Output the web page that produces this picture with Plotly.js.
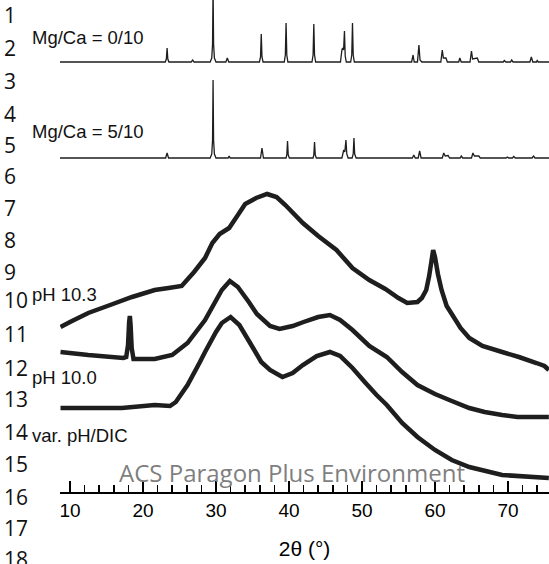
<!DOCTYPE html>
<html><head><meta charset="utf-8">
<script src="https://cdn.plot.ly/plotly-3.0.1.min.js"></script>
<style>html,body{margin:0;padding:0;background:#fff}#chart{width:549px;height:564px}</style>
</head><body><div id="chart"></div>
<script>
// ---------- data (2θ in degrees, intensity in arbitrary units) ----------
const seriesNames = ['Mg/Ca = 0/10', 'Mg/Ca = 5/10', 'pH 10.3', 'pH 10.0', 'var. pH/DIC'];
const seriesOffsets = [430, 334, 100, 60, 0];

const mg0_x = [8.63,23.05,23.2,23.3,23.4,23.55,26.6,26.8,27.0,29.2,29.42,29.53,29.6,29.67,29.78,30.0,31.35,31.55,31.75,
  35.95,36.1,36.2,36.3,36.45,39.35,39.5,39.6,39.7,39.85,43.15,43.3,43.4,43.5,43.65,47.05,47.25,47.35,47.48,47.6,47.7,47.85,
  48.45,48.6,48.7,48.8,48.95,56.8,57.0,57.15,57.6,57.8,57.95,58.2,60.8,61.0,61.15,61.5,61.7,63.25,63.4,63.6,
  64.8,65.0,65.15,65.8,66.0,69.35,69.5,69.7,70.35,70.5,70.7,73.0,73.2,73.4,73.9,74.0,74.15,75.62];
const mg0_i = [0,0,3,14,3,0,0,2,0,0,4,18,75,18,4,0,0,4,0,
  0,5,28,5,0,0,7,39,7,0,0,7,38,7,0,0,12,14,12,31,6,0,
  0,7,39,7,0,0,7,0,0,17,2,0,0,12,4,4,0,0,4,0,
  0,11,3,4,0,0,1.5,0,0,2,0,0,5,0,0,1.5,0,0];

const mg5_x = [8.63,23.1,23.3,23.5,29.2,29.42,29.53,29.6,29.67,29.78,30.0,31.65,31.8,31.95,36.1,36.3,36.5,
  39.6,39.7,39.8,39.9,40.05,43.3,43.4,43.5,43.6,43.75,47.25,47.5,47.65,47.8,47.92,48.1,48.65,48.8,48.9,49.0,49.2,
  56.9,57.1,57.3,57.7,57.9,58.1,61.0,61.2,61.4,61.8,62.0,63.45,63.6,63.8,65.0,65.2,65.4,66.0,66.2,
  69.75,69.9,70.1,70.6,70.8,71.0,73.3,73.5,73.7,75.62];
const mg5_i = [0,0,5,0,0,4,18,78,18,4,0,0,2,0,0,10,0,
  0,3,17,3,0,0,3,16,3,0,0,8,6,18,4,0,0,4,20,4,0,
  0,3,0,0,7,0,0,5,2,2.5,0,0,2,0,0,5,2,2,0,
  0,1,0,0,1.5,0,0,2,0,0];

const ph103_x = [8.7,10,12.5,15.5,18.5,21.6,23.5,25.3,27,28.5,29.5,30.5,31.8,33,34,35.5,37,38.3,39.5,41.9,44,46.5,
  48.7,51,53.2,55,56.2,57.6,58.2,58.8,59.2,59.5,59.75,60.0,60.4,60.9,61.6,62.3,63.5,64.7,66.5,69.2,71.5,73.9,75.0,75.6];
const ph103_i = [65,70,79,87,95,102,104,106,120,134,149,158,164,177,188,194,198,195,187,169,156,142,
  124,112,103,94,89,90,94,102,116,130,142,135,118,102,86,78,64,54,46,40,35,29,26,22];

const ph100_x = [8.7,12.5,17.3,17.7,17.95,18.1,18.2,18.3,18.45,18.7,21.6,24,26.1,28.5,30.8,31.9,33,34.5,35.6,37.4,
  38.7,40.5,42,44,45.6,47,48.7,51,53.4,55.5,57.6,60,62.3,64.7,66.8,69.2,71.3,75.6];
const ph100_i = [80,77,74,75,87,110,116,107,84,73,73,77,89,112,142,151,145,130,118,106,
  103,106,110,115,117,112,102,86,75,60,47,38,31,24,20,17,15,15];

const var_x = [8.7,12.5,17.1,21.6,23.7,24.5,26.1,27.8,28.5,30,30.8,32.0,33.2,35.0,36.2,37.4,39.1,40.5,41.9,43.8,
  45.6,47,48.7,50.5,52,53.4,55.5,57.6,60,62.3,64.7,69.2,75.6];
const var_i = [84,84,84,87,86,90,107,130,140,160,169,175,167,145,130,122,115,119,127,136,
  140,136,124,109,97,87,69,55,42,32,25,17,14];

const xTickVals = [10, 20, 30, 40, 50, 60, 70];
const lineNumbers = ['1','2','3','4','5','6','7','8','9','10','11','12','13','14','15','16','17','18'];

// ---------- layout helpers (pixel placement of text) ----------
const L = 60, PW = 489, PH = 492;
const px2x = p => (p - L) / PW;
const py2y = p => (PH - p) / PH;

const xs = [mg0_x, mg5_x, ph103_x, ph100_x, var_x];
const is = [mg0_i, mg5_i, ph103_i, ph100_i, var_i];
const widths = [1.3, 1.3, 4.5, 4.5, 4.5];

const traces = xs.map((x, k) => ({
  type: 'scatter', mode: 'lines', x: x,
  y: is[k].map(v => v + seriesOffsets[k]),
  line: {color: '#1e1e1e', width: widths[k], simplify: false},
  hoverinfo: 'skip', showlegend: false
}));

const lineNumY = [15,47.5,81,113.5,144.5,176,208,240,272,300,334,368,399,432,464,497,528,559];
const annotations = [];
lineNumbers.forEach((t, k) => annotations.push({
  xref: 'paper', yref: 'paper', x: px2x(2), y: py2y(lineNumY[k]), xanchor: 'left', yanchor: 'middle',
  text: t, showarrow: false, font: {family: 'Open Sans', size: 21, color: '#111'}
}));
const labelY = [37, 131, 294, 377, 435];
seriesNames.forEach((t, k) => annotations.push({
  xref: 'paper', yref: 'paper', x: px2x(30), y: py2y(labelY[k]), xanchor: 'left', yanchor: 'middle',
  text: t, showarrow: false, font: {family: 'Liberation Sans', size: 18.5, color: '#111'}
}));
annotations.push({
  xref: 'paper', yref: 'paper', x: px2x(292), y: py2y(472), xanchor: 'center', yanchor: 'middle',
  text: 'ACS Paragon Plus Environment', showarrow: false,
  font: {family: 'Open Sans', size: 24, color: '#7f7f7f'}
});

const layout = {
  width: 549, height: 564,
  margin: {l: L, r: 0, t: 0, b: 72, pad: 0},
  paper_bgcolor: '#fff', plot_bgcolor: '#fff',
  showlegend: false,
  xaxis: {
    range: [8.63, 75.62], showgrid: false, zeroline: false,
    showline: true, linecolor: '#000', linewidth: 2,
    ticks: 'inside', ticklen: 11, tickwidth: 2, tickcolor: '#000',
    tickvals: xTickVals, ticktext: xTickVals.map(String),
    minor: {dtick: 2, tick0: 0, ticks: 'inside', ticklen: 7, tickwidth: 1.5, tickcolor: '#000', showgrid: false},
    tickfont: {family: 'Liberation Sans', size: 19, color: '#000'},
    title: {text: '2θ (°)', font: {family: 'Liberation Sans', size: 21, color: '#000'}, standoff: 22},
    fixedrange: true
  },
  yaxis: {range: [0, 492], visible: false, fixedrange: true},
  annotations: annotations
};

Plotly.newPlot('chart', traces, layout, {staticPlot: true, displayModeBar: false});
</script></body></html>
